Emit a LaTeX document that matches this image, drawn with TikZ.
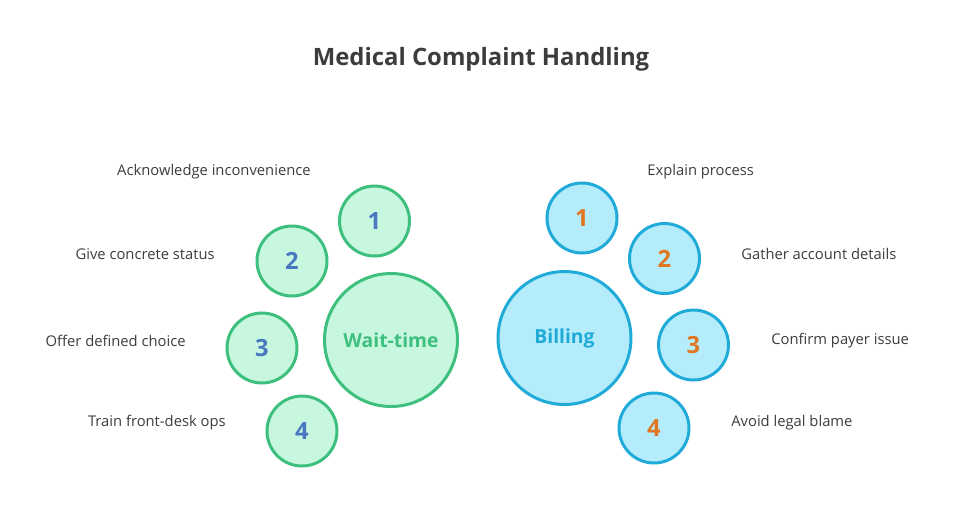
\documentclass[tikz,border=0pt]{standalone}
\usepackage{fontspec}
\setmainfont{Open Sans}
\usepackage{tikz}
\usetikzlibrary{positioning}
\definecolor{waitfill}{HTML}{C8F7DF}
\definecolor{waitline}{HTML}{3DBF7D}
\definecolor{billfill}{HTML}{B5ECFB}
\definecolor{billline}{HTML}{1FAAD8}
\definecolor{waitnum}{HTML}{4A78C0}
\definecolor{billnum}{HTML}{E07522}
\definecolor{txtgray}{HTML}{3C3C3C}
\tikzstyle{hubwait} = [circle, minimum size=2.66cm, inner sep=0pt, line width=1.7pt, draw=waitline, fill=waitfill, text=waitline, font=\fontsize{11}{13}\selectfont\bfseries]
\tikzstyle{hubbill} = [circle, minimum size=2.66cm, inner sep=0pt, line width=1.7pt, draw=billline, fill=billfill, text=billline, font=\fontsize{11}{13}\selectfont\bfseries]
\tikzstyle{stepwait} = [circle, minimum size=1.40cm, inner sep=0pt, line width=1.7pt, draw=waitline, fill=waitfill, text=waitnum, font=\fontsize{13.5}{15}\selectfont\bfseries]
\tikzstyle{stepbill} = [circle, minimum size=1.40cm, inner sep=0pt, line width=1.7pt, draw=billline, fill=billfill, text=billnum, font=\fontsize{13.5}{15}\selectfont\bfseries]
\tikzstyle{tip} = [text=txtgray, font=\fontsize{8.4}{10}\selectfont, inner sep=0pt]

\begin{document}
\begin{tikzpicture}[x=0.02cm, y=-0.02cm]
\useasboundingbox (0,0) rectangle (953,512);

% Title
\node (title) [text=txtgray, font=\fontsize{13.6}{16}\selectfont\bfseries] at (481,59) {Medical Complaint Handling};

% Wait-time side
\node (wait) [hubwait] at (391,340) {Wait-time};
\node (w1) [stepwait] at (374.5,221) {1};
\node (w2) [stepwait] at (292,261) {2};
\node (w3) [stepwait] at (262,348) {3};
\node (w4) [stepwait] at (302,431) {4};

% Billing side
\node (bill) [hubbill] at (564.5,338) {Billing};
\node (b1) [stepbill] at (582,218) {1};
\node (b2) [stepbill] at (664.5,258.5) {2};
\node (b3) [stepbill] at (693.5,345) {3};
\node (b4) [stepbill] at (654,428) {4};

% Wait-time tips
\node (wt1) [tip, anchor=east] at (311,172) {Acknowledge inconvenience};
\node (wt2) [tip, anchor=east] at (215,254) {Give concrete status};
\node (wt3) [tip, anchor=east] at (186,341) {Offer defined choice};
\node (wt4) [tip, anchor=east] at (226,423) {Train front-desk ops};

% Billing tips
\node (bt1) [tip, anchor=west] at (647,172) {Explain process};
\node (bt2) [tip, anchor=west] at (741,254) {Gather account details};
\node (bt3) [tip, anchor=west] at (771,341) {Confirm payer issue};
\node (bt4) [tip, anchor=west] at (731,423) {Avoid legal blame};

\end{tikzpicture}
\end{document}
